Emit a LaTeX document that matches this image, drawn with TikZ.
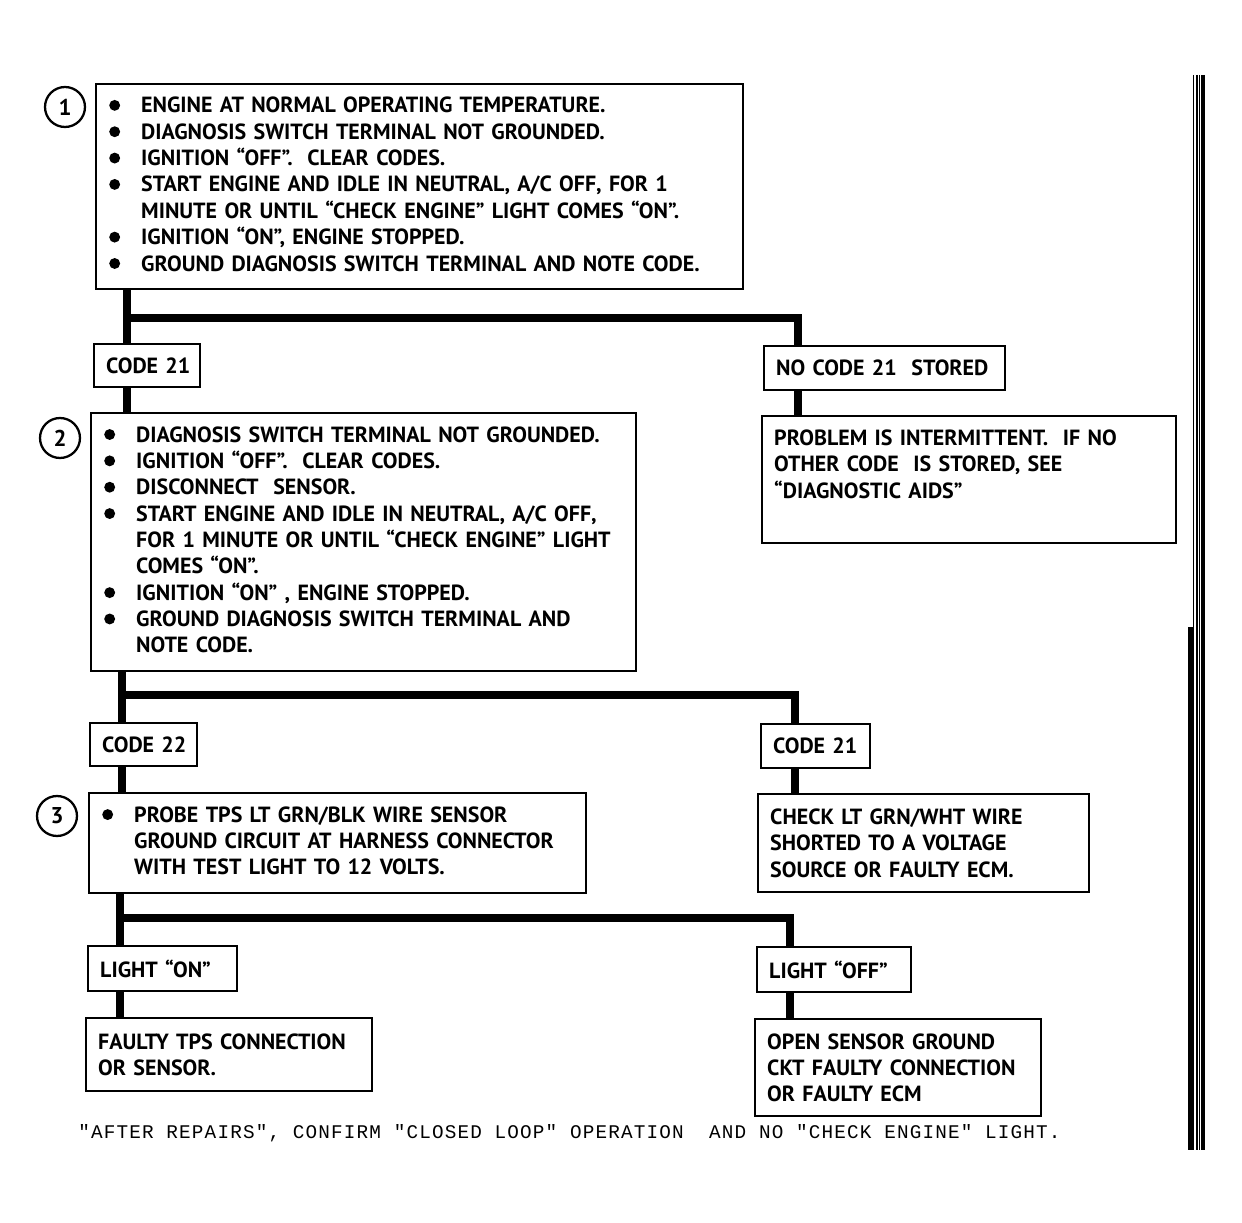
\documentclass[tikz,border=0pt]{standalone}
\usepackage{fontspec}
\setmainfont{PT Sans}
\newfontfamily\notefont[LetterSpace=6]{Liberation Mono}
\usetikzlibrary{positioning}

\tikzset{
  box/.style={draw, line width=1.4pt, anchor=north west, inner xsep=0.24cm, inner ysep=0pt,
    align=left, font=\bfseries\fontsize{12.5}{15}\selectfont},
  link/.style={line width=4pt},
  num/.style={draw, circle, line width=1.3pt, minimum size=0.8cm, inner sep=0pt,
    font=\bfseries\fontsize{13}{14}\selectfont},
}

% 带圆点的条目表格
\newcommand{\steplist}[1]{\begin{tabular}{@{\hspace{0.02cm}}p{0.64cm}@{}l@{}}#1\end{tabular}}
\newcommand{\dotmark}{\tikz[baseline=-4.3pt]\fill (0, 0) circle (3.1pt);}

\begin{document}
\begin{tikzpicture}[x=0.02cm, y=-0.02cm]
		% 画布大小
		\useasboundingbox (0, 0) rectangle (1242, 1223);

		% 第一步
		\node[num] (n1) at (65, 107) {1};
		\node[box, text width=12.46cm, minimum height=4.10cm] (step1) at (95, 83) {\steplist{
			\dotmark & ENGINE AT NORMAL OPERATING TEMPERATURE. \\
			\dotmark & DIAGNOSIS SWITCH TERMINAL NOT GROUNDED. \\
			\dotmark & IGNITION “OFF”.\ \ CLEAR CODES. \\
			\dotmark & START ENGINE AND IDLE IN NEUTRAL, A/C OFF, FOR 1 \\
			         & MINUTE OR UNTIL “CHECK ENGINE” LIGHT COMES “ON”. \\
			\dotmark & IGNITION “ON”, ENGINE STOPPED. \\
			\dotmark & GROUND DIAGNOSIS SWITCH TERMINAL AND NOTE CODE.}};

		\node[box, text width=1.64cm, minimum height=0.86cm] (code21a) at (93, 343) {\mbox{CODE 21}};
		\node[box, text width=4.34cm, minimum height=0.88cm] (nocode) at (763, 345) {\mbox{NO CODE 21\ \ STORED}};
		\node[box, text width=7.80cm, minimum height=2.54cm] (problem) at (761, 415) {\begin{tabular}{@{}l@{}}
			PROBLEM IS INTERMITTENT.\ \ IF NO \\
			OTHER CODE\ \ IS STORED, SEE \\
			“DIAGNOSTIC AIDS” \\ ~\end{tabular}};

		% 第二步
		\node[num] (n2) at (60, 438) {2};
		\node[box, text width=10.42cm, minimum height=5.16cm] (step2) at (90, 412) {\steplist{
			\dotmark & DIAGNOSIS SWITCH TERMINAL NOT GROUNDED. \\
			\dotmark & IGNITION “OFF”.\ \ CLEAR CODES. \\
			\dotmark & DISCONNECT\ \ SENSOR. \\
			\dotmark & START ENGINE AND IDLE IN NEUTRAL, A/C OFF, \\
			         & FOR 1 MINUTE OR UNTIL “CHECK ENGINE” LIGHT \\
			         & COMES “ON”. \\
			\dotmark & IGNITION “ON” , ENGINE STOPPED. \\
			\dotmark & GROUND DIAGNOSIS SWITCH TERMINAL AND \\
			         & NOTE CODE.}};

		\node[box, text width=1.66cm, minimum height=0.86cm] (code22) at (89, 722) {\mbox{CODE 22}};
		\node[box, text width=1.70cm, minimum height=0.88cm] (code21b) at (760, 723) {\mbox{CODE 21}};

		% 第三步
		\node[num] (n3) at (57, 816) {3};
		\node[box, text width=9.46cm, minimum height=2.00cm] (step3) at (88, 792) {\steplist{
			\dotmark & PROBE TPS LT GRN/BLK WIRE SENSOR \\
			         & GROUND CIRCUIT AT HARNESS CONNECTOR \\
			         & WITH TEST LIGHT TO 12 VOLTS.}};
		\node[box, text width=6.14cm, minimum height=1.96cm] (check) at (757, 793) {CHECK LT GRN/WHT WIRE \\
			SHORTED TO A VOLTAGE \\ SOURCE OR FAULTY ECM.};

		% 测试灯结果
		\node[box, text width=2.50cm, minimum height=0.90cm] (lighton) at (87, 945) {\mbox{LIGHT “ON”}};
		\node[box, text width=2.60cm, minimum height=0.90cm] (lightoff) at (756, 946) {\mbox{LIGHT “OFF”}};
		\node[box, text width=5.24cm, minimum height=1.46cm] (faulty) at (85, 1017) {FAULTY TPS CONNECTION \\ OR SENSOR.};
		\node[box, text width=5.24cm, minimum height=1.94cm] (opengnd) at (754, 1018) {OPEN SENSOR GROUND \\
			CKT FAULTY CONNECTION \\ OR FAULTY ECM};

		% 分支连线
		\coordinate (j1) at (127, 318);
		\coordinate (j1r) at (798, 318);
		\coordinate (j2) at (122, 695);
		\coordinate (j2r) at (795, 695);
		\coordinate (j3) at (120, 918);
		\coordinate (j3r) at (790, 918);
		\draw[link] (j1 |- step1.south) -- (j1 |- code21a.north);
		\draw[link] (j1) -- (j1r) -- (j1r |- nocode.north);
		\draw[link] (j1 |- code21a.south) -- (j1 |- step2.north);
		\draw[link] (j1r |- nocode.south) -- (j1r |- problem.north);
		\draw[link] (j2 |- step2.south) -- (j2 |- code22.north);
		\draw[link] (j2) -- (j2r) -- (j2r |- code21b.north);
		\draw[link] (j2 |- code22.south) -- (j2 |- step3.north);
		\draw[link] (j2r |- code21b.south) -- (j2r |- check.north);
		\draw[link] (j3 |- step3.south) -- (j3 |- lighton.north);
		\draw[link] (j3) -- (j3r) -- (j3r |- lightoff.north);
		\draw[link] (j3 |- lighton.south) -- (j3 |- faulty.north);
		\draw[link] (j3r |- lightoff.south) -- (j3r |- opengnd.north);

		% 底部说明
		\node[anchor=west, inner sep=0pt, font=\notefont\fontsize{11}{13}\selectfont] (note) at (78, 1133)
			{"AFTER REPAIRS", CONFIRM "CLOSED LOOP" OPERATION\ \ AND NO "CHECK ENGINE" LIGHT.};

		% 右侧边缘的竖线
		\foreach \x/\w in {1193.3/0.6pt, 1197/0.75pt, 1199.5/0.6pt, 1203.2/2pt}
			\draw[line width=\w] (\x, 75) -- (\x, 1150);
		\draw[line width=2.8pt] (1190.5, 627) -- (1190.5, 1150);
	\end{tikzpicture}
\end{document}
